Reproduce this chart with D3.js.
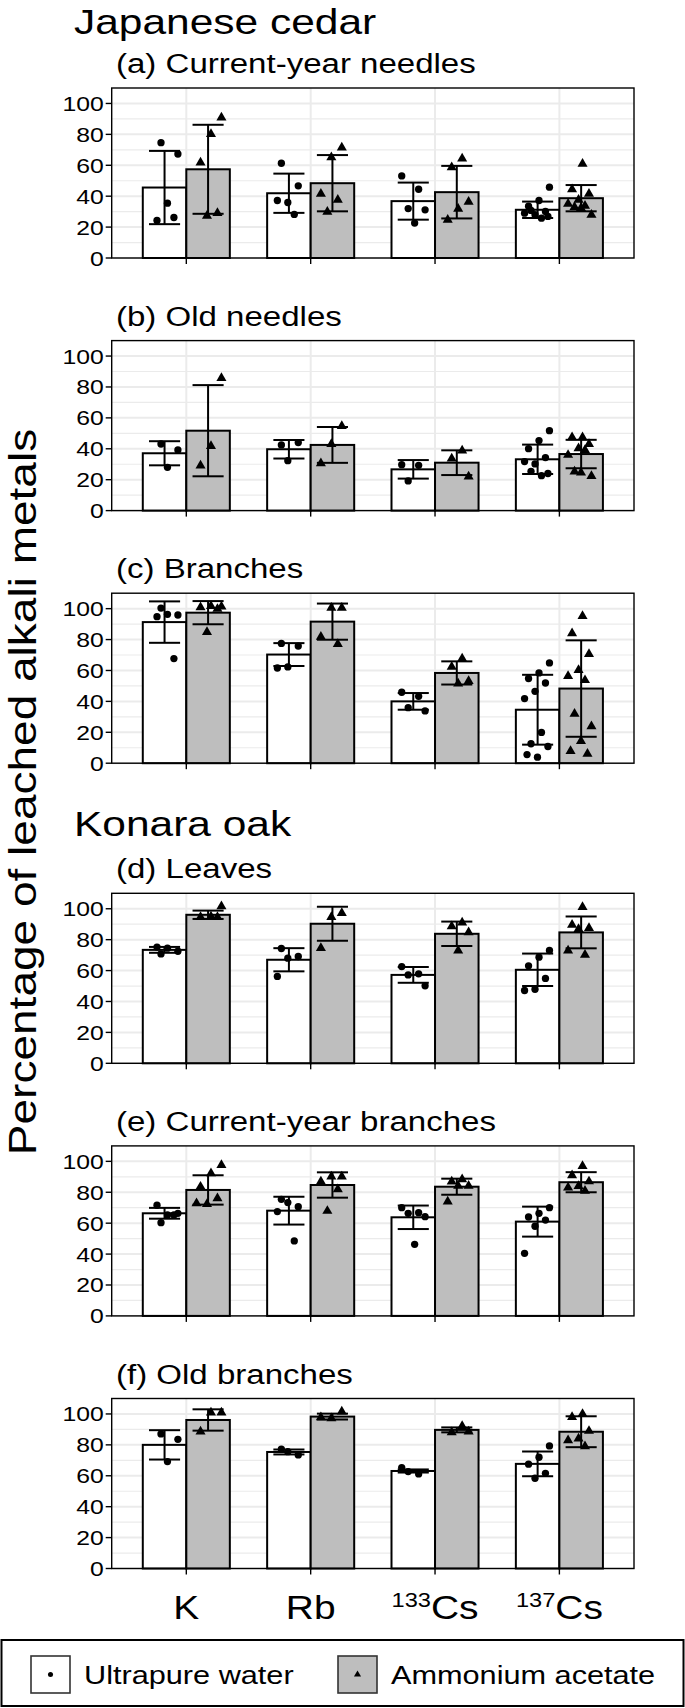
<!DOCTYPE html>
<html>
<head>
<meta charset="utf-8">
<script src="https://cdn.jsdelivr.net/npm/d3@7.9.0/dist/d3.min.js"></script>
<style>
  body { margin: 0; background: #fff; }
  svg { display: block; font-family: 'Liberation Sans', Arial, sans-serif; }
</style>
</head>
<body>
<svg id="chart" width="685" height="1708"></svg>
<script>
const elements = ['K', 'Rb', '133Cs', '137Cs'];
const treatments = ['Ultrapure water', 'Ammonium acetate'];
const species = ['Japanese cedar', 'Konara oak'];
const panelTitles = ['(a) Current-year needles', '(b) Old needles', '(c) Branches',
  '(d) Leaves', '(e) Current-year branches', '(f) Old branches'];
const yTicks = [0, 20, 40, 60, 80, 100];
const yMinor = [10, 30, 50, 70, 90];

// (a) current-year needles
const aWaterMean = [45.6, 41.9, 36.8, 31.2];
const aWaterSD = [23.7, 12.7, 12.0, 5.3];
const aAcetMean = [57.4, 48.4, 42.6, 38.7];
const aAcetSD = [28.8, 18.2, 17.0, 8.5];
const aWaterPts = [[74.6, 67.3, 35.5, 24.3, 26.2], [61.3, 46.7, 35.9, 37.2, 28.2],
  [53.1, 44.5, 32.0, 31.2, 22.6], [45.8, 37.2, 33.5, 30.1, 28.0, 29.0, 25.8, 30.8, 26.9]];
const aAcetPts = [[90.8, 80.2, 61.7, 29.0, 27.3], [71.4, 65.2, 41.5, 37.6, 29.9],
  [64.3, 58.7, 36.3, 31.8, 24.7], [60.9, 44.5, 41.5, 37.6, 35.1, 33.8, 32.9, 28.0, 32.3]];

// (b) old needles
const bWaterMean = [37.1, 39.7, 26.7, 33.2];
const bWaterSD = [7.8, 6.0, 6.0, 9.5];
const bAcetMean = [51.7, 42.5, 31.0, 36.6];
const bAcetSD = [29.5, 11.6, 8.0, 9.2];
const bWaterPts = [[43.1, 39.2, 28.0], [42.5, 44.0, 32.3], [29.7, 29.3, 19.2],
  [51.7, 45.3, 40.1, 34.3, 30.2, 31.7, 22.6, 25.4, 24.0]];
const bAcetPts = [[85.8, 41.8, 29.1], [54.7, 43.1, 30.6], [38.8, 33.6, 22.0],
  [47.4, 47.4, 43.1, 40.3, 36.0, 39.2, 25.2, 22.4, 24.6]];

// (c) branches
const cWaterMean = [91.3, 70.3, 40.0, 34.6];
const cWaterSD = [13.4, 7.4, 5.4, 22.6];
const cAcetMean = [97.4, 91.6, 58.4, 48.3];
const cAcetSD = [7.5, 11.7, 7.5, 31.2];
const cWaterPts = [[100.4, 95.9, 96.3, 94.8, 67.7], [77.5, 75.8, 62.3, 61.6], [45.9, 43.3, 35.9, 33.8],
  [64.9, 58.4, 54.8, 51.9, 46.5, 41.8, 19.9, 12.6, 10.8, 3.9, 5.6]];
const cAcetPts = [[101.3, 101.7, 100.8, 99.8, 84.8], [100.6, 100.6, 81.8, 77.1], [67.7, 62.3, 53.2, 51.5],
  [95.2, 84.0, 70.6, 60.2, 56.3, 53.7, 32.0, 23.8, 14.3, 7.8, 6.1]];

// (d) leaves
const dWaterMean = [73.4, 67.0, 57.2, 60.5];
const dWaterSD = [1.9, 7.5, 5.1, 10.5];
const dAcetMean = [96.1, 90.3, 83.8, 84.7];
const dAcetSD = [2.7, 11.0, 7.9, 10.3];
const dWaterPts = [[70.8, 72.5, 74.5, 75.2], [74.3, 69.1, 68.0, 56.2], [62.6, 57.9, 57.2, 50.1],
  [73.0, 68.7, 63.1, 54.9, 47.9, 47.1]];
const dAcetPts = [[101.5, 95.0, 94.6, 94.6], [97.2, 94.6, 74.5], [91.1, 88.6, 84.7, 73.0],
  [101.1, 89.6, 87.5, 86.8, 73.0, 70.2]];

// (e) current-year branches
const eWaterMean = [66.4, 68.1, 63.8, 61.0];
const eWaterSD = [3.5, 9.0, 7.6, 9.7];
const eAcetMean = [81.5, 84.7, 83.6, 86.5];
const eAcetSD = [9.5, 8.2, 5.2, 6.5];
const eWaterPts = [[60.3, 66.4, 65.3, 71.6, 65.3], [75.4, 70.7, 73.3, 67.5, 48.5],
  [70.0, 66.8, 66.4, 64.2, 46.3], [70.0, 66.4, 64.0, 62.0, 58.0, 40.5]];
const eAcetPts = [[97.6, 92.2, 83.6, 76.1, 72.4, 72.8], [90.1, 90.1, 86.9, 81.9, 67.9],
  [88.4, 86.9, 84.1, 84.1, 73.9], [97.0, 91.0, 87.0, 84.0, 83.0, 81.0]];

// (f) old branches
const fWaterMean = [80.0, 75.4, 63.1, 67.7];
const fWaterSD = [9.5, 1.6, 1.0, 8.0];
const fAcetMean = [96.1, 98.3, 89.7, 88.5];
const fAcetSD = [6.9, 1.9, 1.6, 10.0];
const fWaterPts = [[87.1, 83.6, 69.2], [77.2, 73.5, 75.6], [65.3, 61.2, 62.7],
  [79.3, 72.0, 67.5, 61.6, 58.4]];
const fAcetPts = [[100.9, 100.9, 88.6], [101.5, 97.2, 97.8], [92.2, 88.1, 88.6],
  [100.0, 98.0, 89.0, 84.0, 83.0, 79.0]];

const panels = [
  [aWaterMean, aWaterSD, aWaterPts, aAcetMean, aAcetSD, aAcetPts],
  [bWaterMean, bWaterSD, bWaterPts, bAcetMean, bAcetSD, bAcetPts],
  [cWaterMean, cWaterSD, cWaterPts, cAcetMean, cAcetSD, cAcetPts],
  [dWaterMean, dWaterSD, dWaterPts, dAcetMean, dAcetSD, dAcetPts],
  [eWaterMean, eWaterSD, eWaterPts, eAcetMean, eAcetSD, eAcetPts],
  [fWaterMean, fWaterSD, fWaterPts, fAcetMean, fAcetSD, fAcetPts]
].map(([wm, ws, wp, am, as, ap], i) => ({
  title: panelTitles[i],
  groups: [{ mean: wm, sd: ws, pts: wp, fill: '#fff', shape: 'circle' },
           { mean: am, sd: as, pts: ap, fill: '#bebebe', shape: 'triangle' }]
}));

const SX = 1.18; // glyphs in the figure are drawn a bit wide
const svg = d3.select('#chart');
svg.append('rect').attr('width', 685).attr('height', 1708).attr('fill', '#fff');

function label(sel, x, y, s, size, anchor = 'start') {
  return sel.append('text')
    .attr('transform', `translate(${x},${y}) scale(${SX},1)`)
    .attr('font-size', size)
    .attr('text-anchor', anchor)
    .attr('fill', '#000')
    .text(s);
}

const left = 111.7, right = 634, panelH = 170;
const x = d3.scalePoint().domain(elements).range([left, right]).padding(0.6);
const step = x.step();
const barW = 0.35 * step;
const capW = 0.25 * step;
const circle = d3.symbol(d3.symbolCircle, 42);
const triangle = d3.symbol(d3.symbolTriangle, 44);

// spreads points sideways like a jitter, but repeatable
const jitter = (i) => ((((i * 0.618034 + 0.37) % 1) - 0.5) * 0.22 * step);

panels.forEach((p, pi) => {
  const top = 88 + pi * 252.6 + (pi >= 3 ? 47.5 : 0);
  const y = d3.scaleLinear().domain([0, 110]).range([top + panelH, top]);
  const g = svg.append('g');

  label(g, 116, top - 15, p.title, 28);

  g.selectAll('.minor').data(yMinor).join('line')
    .attr('x1', left).attr('x2', right)
    .attr('y1', (d) => y(d)).attr('y2', (d) => y(d))
    .attr('stroke', '#ebebeb').attr('stroke-width', 1.2);
  g.selectAll('.major').data(yTicks).join('line')
    .attr('x1', left).attr('x2', right)
    .attr('y1', (d) => y(d)).attr('y2', (d) => y(d))
    .attr('stroke', '#ebebeb').attr('stroke-width', 2);
  g.selectAll('.vgrid').data(elements).join('line')
    .attr('x1', (d) => x(d)).attr('x2', (d) => x(d))
    .attr('y1', top).attr('y2', top + panelH)
    .attr('stroke', '#ebebeb').attr('stroke-width', 2);

  p.groups.forEach((grp, gi) => {
    const cx = (d) => x(d) + (gi === 0 ? -barW / 2 : barW / 2);
    g.append('g').selectAll('rect').data(elements).join('rect')
      .attr('x', (d) => cx(d) - barW / 2)
      .attr('width', barW)
      .attr('y', (d, i) => y(grp.mean[i]))
      .attr('height', (d, i) => y(0) - y(grp.mean[i]))
      .attr('fill', grp.fill).attr('stroke', '#000').attr('stroke-width', 2);

    const eb = g.append('g').attr('stroke', '#000').attr('stroke-width', 2);
    elements.forEach((el, i) => {
      const hi = y(grp.mean[i] + grp.sd[i]);
      const lo = y(Math.max(0, grp.mean[i] - grp.sd[i]));
      eb.append('line').attr('x1', cx(el)).attr('x2', cx(el)).attr('y1', hi).attr('y2', lo);
      eb.append('line').attr('x1', cx(el) - capW / 2).attr('x2', cx(el) + capW / 2).attr('y1', hi).attr('y2', hi);
      eb.append('line').attr('x1', cx(el) - capW / 2).attr('x2', cx(el) + capW / 2).attr('y1', lo).attr('y2', lo);
    });

    elements.forEach((el, i) => {
      g.append('g').selectAll('path').data(grp.pts[i]).join('path')
        .attr('d', grp.shape === 'circle' ? circle : triangle)
        .attr('transform', (v, j) => `translate(${cx(el) + jitter(j + i * 3 + gi)},${y(v)})`)
        .attr('fill', '#000');
    });
  });

  g.append('rect').attr('x', left).attr('y', top).attr('width', right - left).attr('height', panelH)
    .attr('fill', 'none').attr('stroke', '#000').attr('stroke-width', 1.4);

  g.selectAll('.ytick').data(yTicks).join('line')
    .attr('x1', left - 6).attr('x2', left)
    .attr('y1', (d) => y(d)).attr('y2', (d) => y(d))
    .attr('stroke', '#000').attr('stroke-width', 1.4);
  yTicks.forEach((t) => label(g, left - 8, y(t) + 7.5, t, 21, 'end'));
  g.selectAll('.xtick').data(elements).join('line')
    .attr('x1', (d) => x(d)).attr('x2', (d) => x(d))
    .attr('y1', top + panelH).attr('y2', top + panelH + 6)
    .attr('stroke', '#000').attr('stroke-width', 1.4);
});

label(svg, 74, 34, species[0], 36);
label(svg, 74, 836, species[1], 36);

svg.append('text')
  .attr('transform', `translate(36,792) rotate(-90) scale(${SX},1)`)
  .attr('font-size', 39).attr('text-anchor', 'middle')
  .text('Percentage of leached alkali metals');

// element labels with mass numbers as superscripts
const xLab = svg.append('g');
elements.forEach((el) => {
  const m = el.match(/^(\d*)(.*)$/);
  const t = xLab.append('text')
    .attr('transform', `translate(${x(el)},1619) scale(${SX},1)`)
    .attr('text-anchor', 'middle').attr('font-size', 33);
  if (m[1]) t.append('tspan').attr('font-size', 20).attr('dy', -12).text(m[1]);
  t.append('tspan').attr('dy', m[1] ? 12 : 0).text(m[2]);
});

const legend = svg.append('g');
legend.append('rect').attr('x', 1.5).attr('y', 1640).attr('width', 682).attr('height', 66)
  .attr('fill', '#fff').attr('stroke', '#000').attr('stroke-width', 2);
const keyX = [31, 338];
const smallCircle = d3.symbol(d3.symbolCircle, 20);
const smallTri = d3.symbol(d3.symbolTriangle, 22);
treatments.forEach((t, i) => {
  legend.append('rect').attr('x', keyX[i]).attr('y', 1656).attr('width', 39).attr('height', 37)
    .attr('fill', i === 0 ? '#fff' : '#bebebe').attr('stroke', '#333').attr('stroke-width', 1.6);
  legend.append('path').attr('d', i === 0 ? smallCircle : smallTri)
    .attr('transform', `translate(${keyX[i] + 19.5},${1674.5})`).attr('fill', '#000');
  label(legend, keyX[i] + 53, 1684, t, 26);
});
</script>
</body>
</html>
